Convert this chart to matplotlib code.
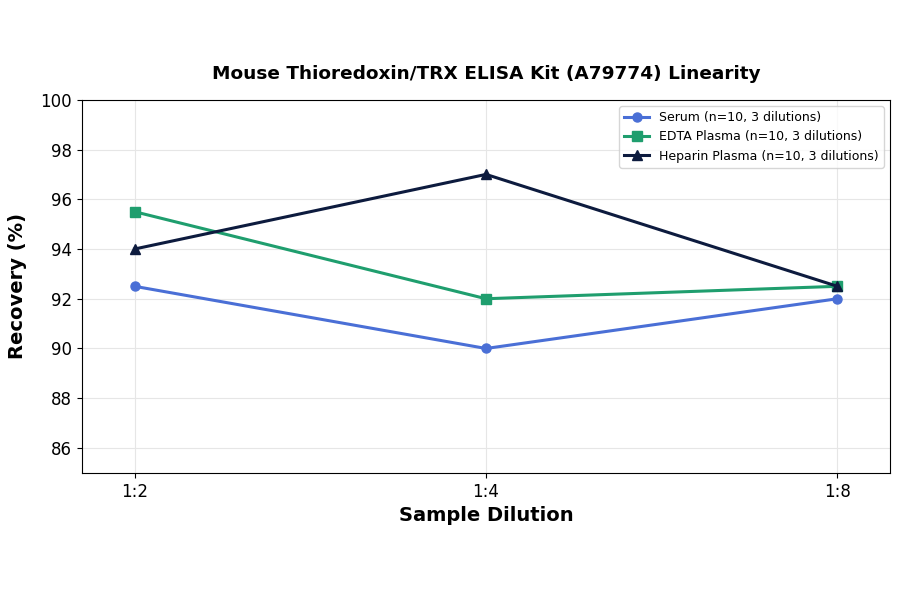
import matplotlib
matplotlib.use("Agg")
import matplotlib.pyplot as plt

dilutions = ["1:2", "1:4", "1:8"]
serum = [92.5, 90.0, 92.0]
edta = [95.5, 92.0, 92.5]
heparin = [94.0, 97.0, 92.5]
labels = ["Serum (n=10, 3 dilutions)", "EDTA Plasma (n=10, 3 dilutions)", "Heparin Plasma (n=10, 3 dilutions)"]
yticks = [86, 88, 90, 92, 94, 96, 98, 100]

fig = plt.figure(figsize=(9, 5.94), dpi=100)
ax = fig.add_axes([0.091, 0.204, 0.898, 0.628])
x = list(range(len(dilutions)))
ax.plot(x, serum, color="#4a6fd6", marker="o", lw=2.2, ms=6.5, label=labels[0])
ax.plot(x, edta, color="#1f9e6e", marker="s", lw=2.2, ms=6.5, label=labels[1])
ax.plot(x, heparin, color="#0d1b3e", marker="^", lw=2.2, ms=6.5, label=labels[2])
ax.set_xlim(-0.15, 2.15)
ax.set_ylim(85, 100)
ax.set_yticks(yticks)
ax.set_xticks(x)
ax.set_xticklabels(dilutions)
ax.tick_params(labelsize=12)
ax.grid(True, color="#e6e6e6", lw=0.8)
ax.set_axisbelow(True)
ax.set_xlabel("Sample Dilution", fontsize=14, fontweight="bold")
ax.set_ylabel("Recovery (%)", fontsize=14, fontweight="bold", labelpad=10)
ax.set_title("Mouse Thioredoxin/TRX ELISA Kit (A79774) Linearity", fontsize=13.3, fontweight="bold", pad=15)
ax.legend(loc="upper right", fontsize=9)
fig.savefig("out.png", dpi=100)
